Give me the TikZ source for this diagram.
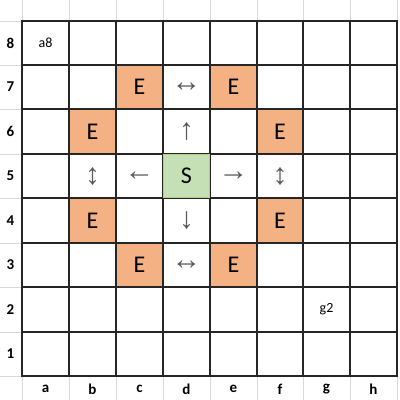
\documentclass[tikz,border=0pt]{standalone}
\usepackage{fontspec}
\setmainfont{Carlito}
\newfontfamily\arrowfont{Liberation Sans}
\definecolor{eorange}{HTML}{F4B183}
\definecolor{sgreen}{HTML}{C5E0B4}
\definecolor{sgreenline}{HTML}{A9D18E}
\definecolor{hdrline}{HTML}{D9D9D9}
\definecolor{arrowgray}{HTML}{595959}
\begin{document}
\begin{tikzpicture}[x=1pt,y=-1pt,
  cellbox/.style={minimum width=47pt,minimum height=44.5pt,inner sep=0pt,outer sep=0pt},
  ecell/.style={cellbox,fill=eorange,font=\fontsize{24}{28}\selectfont},
  scell/.style={cellbox,fill=sgreen,font=\fontsize{24}{28}\selectfont},
  arrowtxt/.style={font=\arrowfont\fontsize{30}{34}\selectfont,text=arrowgray,inner sep=0pt},
  plaintxt/.style={font=\fontsize{14}{16}\selectfont,inner sep=0pt},
  hdrtxt/.style={font=\bfseries\fontsize{15}{17}\selectfont,inner sep=0pt},
  gridline/.style={line width=2pt,draw=black!85},
  hdrgrid/.style={line width=1pt,draw=hdrline}]
\useasboundingbox (0,0) rectangle (400,400);
\fill[white] (0,0) rectangle (400,400);
% header light lines
\foreach \x in {22,69,116,163,210,257,303,350,397} {
  \draw[hdrgrid] (\x,0) -- (\x,21);
  \draw[hdrgrid] (\x,376) -- (\x,400);
}
\foreach \y in {21,65,109,154,198,243,287,332,376} {
  \draw[hdrgrid] (0,\y) -- (22,\y);
}
% coloured cells
\node[ecell] (Ec7) at (139.5,87) {E};
\node[ecell] (Ee7) at (233.5,87) {E};
\node[ecell] (Eb6) at (92.5,131.5) {E};
\node[ecell] (Ef6) at (280,131.5) {E};
\node[ecell] (Eb4) at (92.5,220.5) {E};
\node[ecell] (Ef4) at (280,220.5) {E};
\node[ecell] (Ec3) at (139.5,265) {E};
\node[ecell] (Ee3) at (233.5,265) {E};
\node[scell] (Sd5) at (186.5,176) {S};
% grid
\foreach \x in {22,69,116,163,210,257,303,350,397} {
  \draw[gridline] (\x,20) -- (\x,377);
}
\foreach \y in {21,65,109,154,198,243,287,332,376} {
  \draw[gridline] (21,\y) -- (398,\y);
}
\draw[sgreenline,line width=1.5pt] (163.5,154.5) rectangle (209.5,197.5);
% arrows
\node[arrowtxt] (Ad7) at (186.5,87.5) {↔};
\node[arrowtxt] (Ad6) at (186.5,132) {↑};
\node[arrowtxt] (Ab5) at (92.5,176.5) {↕};
\node[arrowtxt] (Ac5) at (139.5,176.5) {←};
\node[arrowtxt] (Ae5) at (233.5,176.5) {→};
\node[arrowtxt] (Af5) at (280,176.5) {↕};
\node[arrowtxt] (Ad4) at (186.5,221) {↓};
\node[arrowtxt] (Ad3) at (186.5,265.5) {↔};
% texts
\node[plaintxt] (a8) at (45.5,43) {a8};
\node[plaintxt] (g2) at (326.5,309.5) {g2};
% row labels
\foreach \r/\y in {8/43,7/87,6/131.5,5/176,4/220.5,3/265,2/309.5,1/354} {
  \node[hdrtxt] (row\r) at (10.5,\y) {\r};
}
\foreach \c/\x in {a/45.5,b/92.5,c/139.5,d/186.5,e/233.5,f/280,g/326.5,h/373.5} {
  \node[hdrtxt] (col\c) at (\x,389) {\c};
}
\end{tikzpicture}
\end{document}
